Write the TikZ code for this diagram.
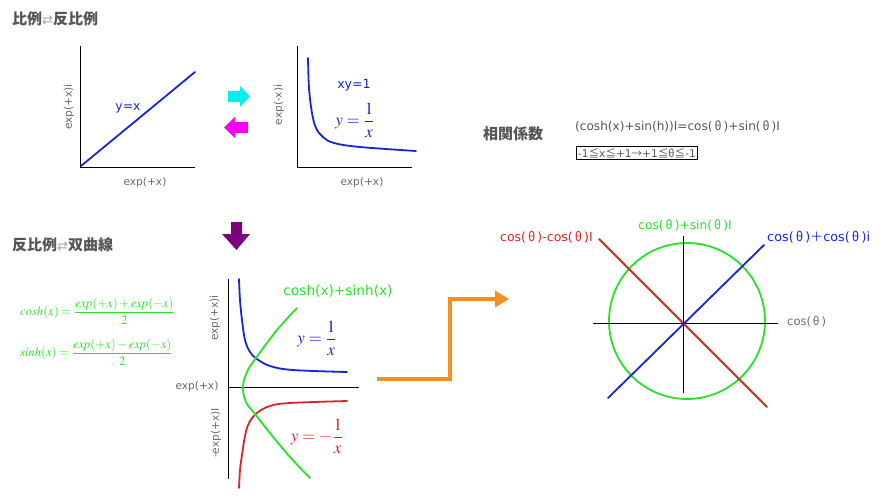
\documentclass[tikz,border=0pt]{standalone}
\usepackage{amsmath}
\usepackage{mathptmx}
\usepackage{fontspec}
\setmainfont{DejaVu Sans}
\newfontfamily\cjk{Noto Sans CJK JP}
\newfontfamily\djv{DejaVu Sans}
\usetikzlibrary{arrows.meta}
\definecolor{cblue}{RGB}{25,35,215}
\definecolor{cgreen}{RGB}{40,225,40}
\definecolor{cred}{RGB}{220,35,40}
\definecolor{lgray}{RGB}{105,105,105}
\definecolor{tgray}{RGB}{85,85,85}
\definecolor{agray}{RGB}{165,165,165}
\definecolor{acyan}{RGB}{0,240,240}
\definecolor{amag}{RGB}{245,0,245}
\definecolor{apurple}{RGB}{125,0,125}
\definecolor{aorange}{RGB}{247,142,30}
\newcommand\tht{{\cjk θ}}
\newcommand\ttlarrow{{\djv\mdseries\fontsize{13}{15}\selectfont\color{agray}⇄}}
\tikzset{
  axis/.style={black, line width=0.9},
  curve/.style={line width=1.8, line join=round, line cap=round},
  lbl/.style={text=lgray, font=\fontsize{10.6}{13}\selectfont, inner sep=0},
  ttl/.style={text=tgray, font=\cjk\bfseries\fontsize{15}{17}\selectfont, inner sep=0, anchor=west},
  mth/.style={font=\fontsize{17}{19}\selectfont, inner sep=0},
  trig/.style={font=\fontsize{12.2}{14}\selectfont, inner sep=0},
  gform/.style={inner sep=0, anchor=west, text=cgreen, font=\fontsize{12.6}{14}\selectfont\boldmath}
}
\begin{document}
\begin{tikzpicture}[x=1pt,y=-1pt]
\useasboundingbox (0,0) rectangle (883,498);

% titles
\node[ttl] (t1) at (12,19) {比例\ttlarrow 反比例};
\node[ttl] (t2) at (12,245) {反比例\ttlarrow 双曲線};

% top-left graph
\coordinate (g1t) at (80,46); \coordinate (g1o) at (80,167); \coordinate (g1r) at (195,167);
\draw[axis] (g1t) -- (g1o) -- (g1r);
\coordinate (l1a) at (81,166); \coordinate (l1b) at (195,72);
\draw[curve, cblue] (l1a) -- (l1b);
\node[inner sep=0, text=cblue, font=\fontsize{12.4}{14}\selectfont] (yx) at (128,108) {y=x};
\node[lbl] (g1x) at (145,183) {exp(+x)};
\node[lbl, rotate=90] (g1y) at (69,107) {exp(+x)i};

% cyan / magenta arrows
\fill[acyan] (228,91) -- (240,91) -- (240,86) -- (250,96.5) -- (240,107) -- (240,102) -- (228,102) -- cycle;
\fill[amag] (248,122) -- (235,122) -- (235,117) -- (224,127.5) -- (235,138) -- (235,133) -- (248,133) -- cycle;

% top-right graph
\coordinate (g2t) at (297,46); \coordinate (g2o) at (297,167); \coordinate (g2r) at (412,167);
\draw[axis] (g2t) -- (g2o) -- (g2r);
\draw[curve, cblue] plot[smooth, tension=0.6] coordinates {(308,58) (309,88) (312,113) (316,128) (323,137) (334,143) (360,147) (416,151)};
\node[inner sep=0, text=cblue, font=\fontsize{12.6}{15}\selectfont] (xy1) at (354,85) {xy=1};
\node[mth, text=cblue] (inv1) at (355,120) {$y=\dfrac{1}{x}$};
\node[lbl] (g2x) at (362,183) {exp(+x)};
\node[lbl, rotate=90] (g2y) at (279,105) {exp(-x)i};

% correlation text
\node[ttl, anchor=center] (corr) at (513,134) {相関係数};
\node[lbl, text=tgray, anchor=west, font=\fontsize{12.1}{14}\selectfont] (eq1) at (575,126) {(cosh(x)+sin(h))I=cos(\,\tht\,)+sin(\,\tht\,)I};
\node[lbl, text=tgray, anchor=west, draw=black, line width=0.9, inner xsep=1.5pt, inner ysep=1.5pt] (eq2) at (576,153) {-1{\cjk ≦}x{\cjk ≦}+1{\cjk →}+1{\cjk ≦}\tht{\cjk ≦}-1};

% purple arrow
\fill[apurple] (231,222) -- (242,222) -- (242,234) -- (250,234) -- (236.5,250) -- (222,234) -- (231,234) -- cycle;

% green formulas
\node[gform] (fc) at (20,311)
  {$\mathit{cosh}(x)=\dfrac{\mathit{exp}(+x)+\mathit{exp}(-x)}{2}$};
\node[gform] (fs) at (20,352)
  {$\mathit{sinh}(x)=\dfrac{\mathit{exp}(+x)-\mathit{exp}(-x)}{2}$};

% middle graph
\coordinate (g3t) at (228,279); \coordinate (g3b) at (228,479);
\coordinate (g3o) at (228,387); \coordinate (g3r) at (359,387);
\draw[axis] (g3t) -- (g3b);
\draw[axis] (g3o) -- (g3r);
\draw[curve, cblue] plot[smooth, tension=0.6] coordinates {(239,279) (240,300) (242,320) (245,340) (250,352) (257,359) (270,366) (293,370) (347,372)};
\draw[curve, cred] plot[smooth, tension=0.6] coordinates {(239,488) (240,470) (242,455) (245,436) (249,423) (257,413) (270,406) (290,403) (347,401)};
\draw[curve, cgreen] plot[smooth, tension=0.6] coordinates {(297,308) (277,330) (256,358) (247,372) (243,387) (246,402) (255,414) (270,433) (290,457) (310,478)};
\node[inner sep=0, text=cgreen, font=\fontsize{13.7}{16}\selectfont] (chs) at (338,291) {cosh(x)+sinh(x)};
\node[mth, text=cblue] (inv2) at (317,338) {$y=\dfrac{1}{x}$};
\node[mth, text=cred] (inv3) at (317,436) {$y=-\dfrac{1}{x}$};
\node[lbl] (g3x) at (197,387) {exp(+x)};
\node[lbl, rotate=90] (g3y) at (215,318) {exp(+x)i};
\node[lbl, rotate=90] (g3n) at (216,433) {-exp(+x)I};

% orange arrow
\coordinate (o1) at (377,379); \coordinate (o2) at (450,379);
\coordinate (o3) at (450,299); \coordinate (o4) at (509,299);
\draw[aorange, line width=4, -{Triangle[length=14pt, width=16pt]}] (o1) -- (o2) -- (o3) -- (o4);

% circle graph
\coordinate (cc) at (687,321);
\draw[cgreen, line width=1.8] (cc) circle[radius=78];
\coordinate (hx1) at (593,323); \coordinate (hx2) at (778,323);
\coordinate (vy1) at (683,236); \coordinate (vy2) at (683,393);
\draw[axis] (hx1) -- (hx2);
\draw[axis] (vy1) -- (vy2);
\coordinate (r1) at (599,239); \coordinate (r2) at (767,407);
\coordinate (b1) at (608,398); \coordinate (b2) at (764,245);
\draw[curve, cred] (r1) -- (r2);
\draw[curve, cblue] (b1) -- (b2);
\node[trig, text=cred, anchor=east, font=\fontsize{12.5}{14}\selectfont] (lr) at (593,237) {cos(\,\tht\,)-cos(\,\tht\,)I};
\node[trig, text=cgreen] (lg) at (685,225) {cos(\,\tht\,)+sin(\,\tht\,)I};
\node[trig, text=cblue, anchor=west, font=\fontsize{12.8}{14}\selectfont] (lb) at (767,237) {cos(\,\tht\,){\cjk ＋}cos(\,\tht\,)i};
\node[lbl, anchor=west, font=\fontsize{11.5}{13}\selectfont] (lc) at (787,322) {cos(\,\tht\,)};
\end{tikzpicture}
\end{document}
